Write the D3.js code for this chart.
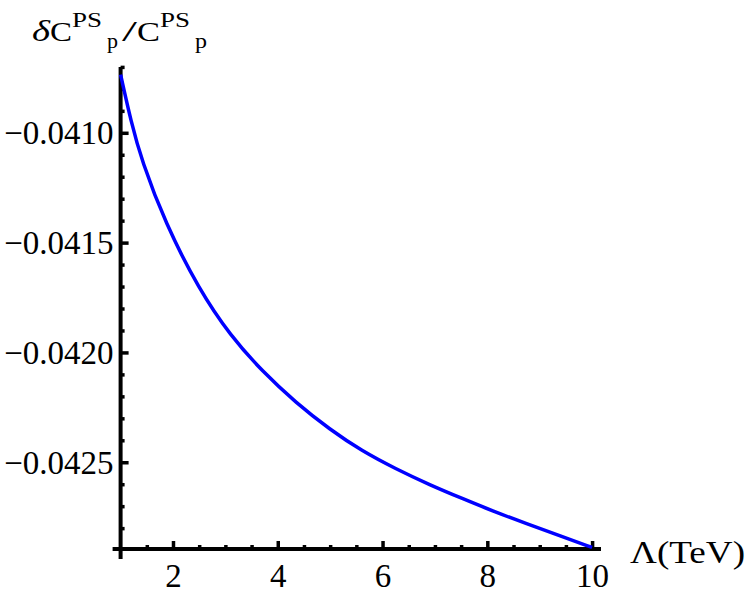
<!DOCTYPE html>
<html><head><meta charset="utf-8">
<script src="https://cdn.jsdelivr.net/npm/d3@7"></script>
<style>
html,body{margin:0;padding:0;background:#fff;}
svg{display:block;font-family:"Liberation Serif","Times New Roman",serif;}
</style></head>
<body>
<svg id="c" width="750" height="598"></svg>
<script>
// Data
const lambdaTeV = [1.0, 1.2, 1.4, 1.85, 2.5, 3.1, 3.7, 4.35, 5.0, 5.6, 6.25, 6.9, 7.55, 8.1, 8.75, 9.4, 10.0];
const ratioValues = [-0.040735, -0.040950, -0.041125, -0.041410, -0.041715, -0.041925, -0.042085, -0.042230, -0.042352, -0.042448, -0.042530, -0.042603, -0.042668, -0.042722, -0.042780, -0.042836, -0.042888];
const xMajorTicks = [2, 4, 6, 8, 10];
const xMinorTicks = [1.5, 2.5, 3, 3.5, 4.5, 5, 5.5, 6.5, 7, 7.5, 8.5, 9, 9.5];
const yMajorTicks = [-0.0410, -0.0415, -0.0420, -0.0425];
const yMinorTicks = [-0.0407, -0.0408, -0.0409, -0.0411, -0.0412, -0.0413, -0.0414, -0.0416, -0.0417, -0.0418, -0.0419, -0.0421, -0.0422, -0.0423, -0.0424, -0.0426, -0.0427, -0.0428];
const xDomain = [1, 10.17];
const yDomain = [-0.042895, -0.040705];
const xLabel = "Λ(TeV)";
const titleParts = [
  {t: "δ", x: 32, w: 18, y: 41, s: 30, i: true},
  {t: "C", x: 50, w: 22, y: 41, s: 28},
  {t: "PS", x: 72, w: 30, y: 27, s: 20},
  {t: "p", x: 107, w: 11, y: 48, s: 22},
  {t: "/", x: 122, w: 15, y: 41, s: 30},
  {t: "C", x: 137, w: 23, y: 41, s: 28},
  {t: "PS", x: 160, w: 30, y: 27, s: 20},
  {t: "p", x: 195, w: 12, y: 48, s: 22}
];

const svg = d3.select("#c");
const x = d3.scaleLinear().domain(xDomain).range([120.6, 601]);
const y = d3.scaleLinear().domain(yDomain).range([549, 68]);
const ax0 = x(1), ay0 = y(yDomain[0]);

// axis lines
svg.append("line").attr("x1", ax0 - 8).attr("x2", x(xDomain[1])).attr("y1", ay0).attr("y2", ay0)
  .attr("stroke", "#000").attr("stroke-width", 4);
svg.append("line").attr("x1", ax0).attr("x2", ax0).attr("y1", y(yDomain[1]) - 1).attr("y2", ay0 + 10)
  .attr("stroke", "#000").attr("stroke-width", 4);

// y axis
const yMaj = svg.append("g").attr("transform", `translate(${ax0},0)`)
  .call(d3.axisLeft(y).tickValues(yMajorTicks).tickSizeInner(-8).tickSizeOuter(0).tickPadding(7).tickFormat(d3.format(".4f")));
const yMin = svg.append("g").attr("transform", `translate(${ax0},0)`)
  .call(d3.axisLeft(y).tickValues(yMinorTicks).tickSizeInner(-4).tickSizeOuter(0).tickFormat(""));
// x axis
const xMaj = svg.append("g").attr("transform", `translate(0,${ay0})`)
  .call(d3.axisBottom(x).tickValues(xMajorTicks).tickSizeInner(-8).tickSizeOuter(0).tickPadding(8).tickFormat(d3.format("d")));
const xMin = svg.append("g").attr("transform", `translate(0,${ay0})`)
  .call(d3.axisBottom(x).tickValues(xMinorTicks).tickSizeInner(-4).tickSizeOuter(0).tickFormat(""));

[yMaj, yMin, xMaj, xMin].forEach(g => {
  g.select(".domain").remove();
  g.selectAll(".tick line").attr("stroke", "#000").attr("stroke-width", 3.5);
  g.selectAll("text").attr("font-family", "Liberation Serif").attr("font-size", 33).attr("fill", "#000");
});
yMaj.selectAll("text").attr("dy", "0.33em");
xMaj.selectAll("text").attr("dy", 0).attr("y", 38);

// curve
const line = d3.line().x((d, i) => x(lambdaTeV[i])).y(d => y(d)).curve(d3.curveBasis);
svg.append("path").datum(ratioValues).attr("d", line)
  .attr("fill", "none").attr("stroke", "#0000ff").attr("stroke-width", 3.5);

// axis labels
svg.append("text").attr("x", 630).attr("y", 563).attr("font-size", 31)
  .attr("textLength", 115).attr("lengthAdjust", "spacingAndGlyphs").text(xLabel);

svg.selectAll("text.title").data(titleParts).join("text").attr("class", "title")
  .attr("x", d => d.x).attr("y", d => d.y).attr("font-size", d => d.s)
  .attr("font-style", d => d.i ? "italic" : null)
  .attr("textLength", d => d.w).attr("lengthAdjust", "spacingAndGlyphs")
  .text(d => d.t);
</script>
</body></html>
